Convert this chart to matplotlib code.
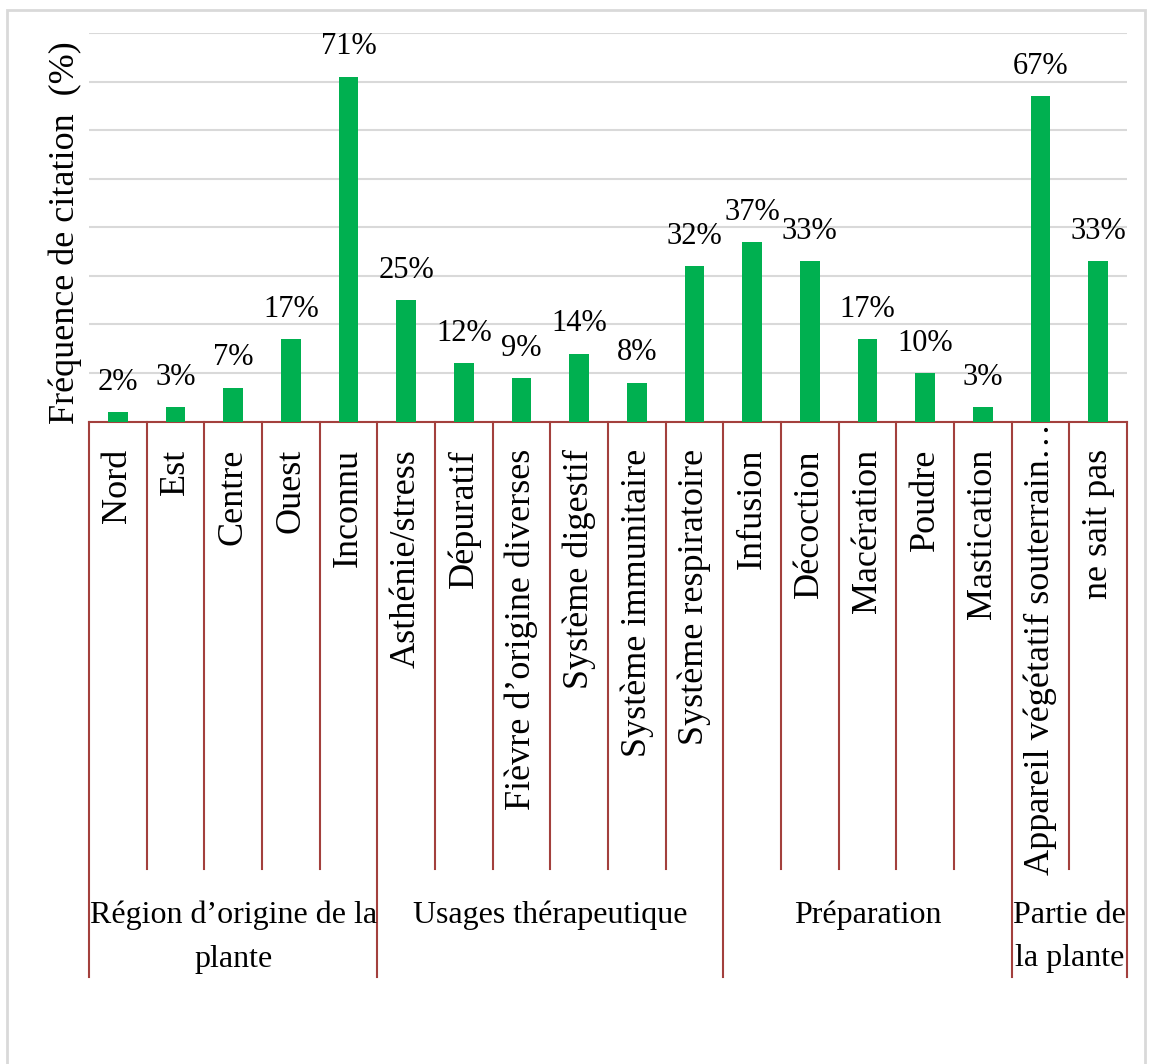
import matplotlib.pyplot as plt
from matplotlib.patches import Rectangle
from matplotlib.transforms import blended_transform_factory

categories = ['Nord', 'Est', 'Centre', 'Ouest', 'Inconnu',
              'Asthénie/stress', 'Dépuratif', 'Fièvre d’origine diverses',
              'Système digestif', 'Système immunitaire', 'Système respiratoire',
              'Infusion', 'Décoction', 'Macération', 'Poudre', 'Mastication',
              'Appareil végétatif souterrain…', 'ne sait pas']
values = [2, 3, 7, 17, 71, 25, 12, 9, 14, 8, 32, 37, 33, 17, 10, 3, 67, 33]
groups = ['Région d’origine de la\nplante', 'Usages thérapeutique',
          'Préparation', 'Partie de\nla plante']
group_sizes = [5, 6, 5, 2]

W, H = 1151, 1064
green = '#00B050'
brown = '#A3403D'
grid_grey = '#D9D9D9'

plt.rcParams['font.family'] = ['Liberation Serif', 'DejaVu Serif']

fig = plt.figure(figsize=(W / 100, H / 100), dpi=100)
# outer light grey frame
fig.patches.append(Rectangle((7 / W, -0.05), (1145 - 7) / W, 1.05 - 10 / H,
                             transform=fig.transFigure, fill=False,
                             edgecolor=grid_grey, linewidth=2))

ax = fig.add_axes([89 / W, 1 - 421.5 / H, (1127 - 89) / W, (421.5 - 33) / H])
x = list(range(len(categories)))
ax.bar(x, values, width=0.34, color=green, zorder=3)
ax.set_xlim(-0.5, len(categories) - 0.5)
ax.set_ylim(0, 80)
ax.set_yticks(range(0, 81, 10))
ax.yaxis.grid(True, color=grid_grey, linewidth=1.5, zorder=0)
ax.tick_params(axis='y', length=0, labelleft=False)
ax.set_xticks([])
for s in ['left', 'right', 'top']:
    ax.spines[s].set_visible(False)
ax.spines['bottom'].set_color(brown)
ax.spines['bottom'].set_linewidth(1.5)

for xi, v in zip(x, values):
    ax.annotate(f'{v}%', (xi, v), xytext=(0, 11), textcoords='offset points',
                ha='center', va='bottom', fontsize=22)

ax.set_ylabel('Fréquence de citation  (%)', fontsize=26)
ax.yaxis.set_label_coords(-0.007, 0.485)

tr = blended_transform_factory(ax.transData, fig.transFigure)

# category labels (long one starts higher, as in the source)
for xi, lab in zip(x, categories):
    top = 423 if lab.endswith('…') else 449
    ax.text(xi, 1 - top / H, lab, transform=tr, rotation=90,
            ha='center', va='top', fontsize=26)

# category and group separators
y0 = 1 - 421.5 / H
y_inner = 1 - 869 / H
y_group = 1 - 977 / H
bounds = [-0.5]
for g in group_sizes:
    bounds.append(bounds[-1] + g)
for i in range(len(categories) + 1):
    xb = i - 0.5
    yb = y_group if xb in bounds else y_inner
    ax.plot([xb, xb], [y0, yb], color=brown, linewidth=1.5,
            transform=tr, clip_on=False)

for g, a, b in zip(groups, bounds[:-1], bounds[1:]):
    ax.text((a + b) / 2, 1 - 901 / H, g, transform=tr, ha='center', va='top',
            fontsize=23, linespacing=1.65)

fig.savefig('out.png', dpi=100)
